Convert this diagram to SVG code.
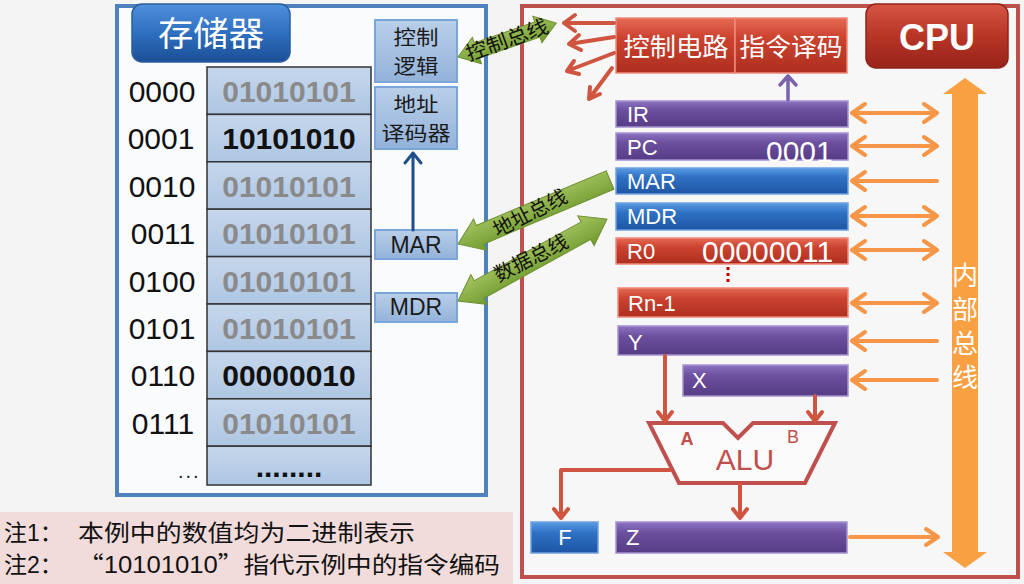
<svg xmlns="http://www.w3.org/2000/svg" width="1024" height="584" viewBox="0 0 1024 584">
  <style>
    .t { font-family: "Liberation Sans", "Noto Sans CJK SC", sans-serif; }
    .cjk { font-family: "Noto Sans CJK SC", "Liberation Sans", sans-serif; }
    .addr { font-size: 30px; fill: #111; text-anchor: middle; }
    .val { font-size: 30px; font-weight: bold; fill: #8a8a8a; text-anchor: middle; }
    .valk { font-size: 30px; font-weight: bold; fill: #111; text-anchor: middle; }
    .cell { fill: url(#gCell); stroke: #333; stroke-width: 1.5; }
    .mbox { fill: url(#gMbox); stroke: #7aa5d8; stroke-width: 2; }
    .mtxt { font-size: 23px; fill: #1a1a1a; text-anchor: middle; }
    .mcjk { font-size: 20px; fill: #1a1a1a; text-anchor: middle; }
    .reg { stroke-width: 1.5; }
    .purple { fill: url(#gPurple); stroke: #a493d0; }
    .blue { fill: url(#gBlue); stroke: #6fa2e2; }
    .red { fill: url(#gRed); stroke: #f08a7a; }
    .rl { font-size: 22px; fill: #fff; }
    .rv { font-size: 30px; fill: #fff; }
    .obus { fill: none; stroke: #f79646; stroke-width: 4; stroke-linecap: round; stroke-linejoin: round; }
    .rarr { fill: none; stroke: #cf5541; stroke-width: 4; stroke-linecap: round; stroke-linejoin: round; }
    .green { fill: url(#gGreen); stroke: #6d9030; stroke-width: 1; }
    .gtxt { font-size: 20px; fill: #111; text-anchor: middle; }
  </style>
  <defs>
    <linearGradient id="gCell" x1="0" y1="0" x2="0" y2="1">
      <stop offset="0" stop-color="#c6d7ec"/>
      <stop offset="1" stop-color="#aec6e3"/>
    </linearGradient>
    <linearGradient id="gMbox" x1="0" y1="0" x2="0" y2="1">
      <stop offset="0" stop-color="#b9cfe9"/>
      <stop offset="1" stop-color="#93b2da"/>
    </linearGradient>
    <linearGradient id="gTitleB" x1="0" y1="0" x2="0" y2="1">
      <stop offset="0" stop-color="#4f90dc"/>
      <stop offset="0.5" stop-color="#2f6fc0"/>
      <stop offset="1" stop-color="#1b4f96"/>
    </linearGradient>
    <linearGradient id="gTitleR" x1="0" y1="0" x2="0" y2="1">
      <stop offset="0" stop-color="#d65543"/>
      <stop offset="0.5" stop-color="#b83526"/>
      <stop offset="1" stop-color="#97231a"/>
    </linearGradient>
    <linearGradient id="gPurple" x1="0" y1="0" x2="0" y2="1">
      <stop offset="0" stop-color="#8d73c2"/>
      <stop offset="0.35" stop-color="#6c509f"/>
      <stop offset="1" stop-color="#563b85"/>
    </linearGradient>
    <linearGradient id="gBlue" x1="0" y1="0" x2="0" y2="1">
      <stop offset="0" stop-color="#5b9be4"/>
      <stop offset="0.35" stop-color="#2f71c4"/>
      <stop offset="1" stop-color="#1d55a3"/>
    </linearGradient>
    <linearGradient id="gRed" x1="0" y1="0" x2="0" y2="1">
      <stop offset="0" stop-color="#e66a55"/>
      <stop offset="0.35" stop-color="#cc4330"/>
      <stop offset="1" stop-color="#ae2e1f"/>
    </linearGradient>
    <linearGradient id="gGreen" x1="0" y1="0" x2="0" y2="1">
      <stop offset="0" stop-color="#a7c562"/>
      <stop offset="1" stop-color="#6f9a2e"/>
    </linearGradient>
  </defs>

  <!-- page -->
  <rect x="0" y="0" width="1024" height="584" fill="#f4f4f4"/>

  <!-- memory frame -->
  <g id="memory">
    <rect x="117" y="6" width="369" height="489" fill="#fafbfc" stroke="#4f81bd" stroke-width="4"/>
    <rect x="132" y="4" width="158" height="58" rx="10" fill="url(#gTitleB)" stroke="#2a5d9f" stroke-width="1.5"/>
    <text class="cjk" x="211" y="46" font-size="34" fill="#fff" text-anchor="middle" textLength="106" lengthAdjust="spacingAndGlyphs">存储器</text>
  </g>

  <!-- memory cells -->
  <g id="memory-cells">
    <rect class="cell" x="207" y="67" width="164" height="47.4"/>
    <rect class="cell" x="207" y="114.4" width="164" height="47.4"/>
    <rect class="cell" x="207" y="161.8" width="164" height="47.4"/>
    <rect class="cell" x="207" y="209.2" width="164" height="47.4"/>
    <rect class="cell" x="207" y="256.6" width="164" height="47.4"/>
    <rect class="cell" x="207" y="304" width="164" height="47.4"/>
    <rect class="cell" x="207" y="351.4" width="164" height="47.4"/>
    <rect class="cell" x="207" y="398.8" width="164" height="47.4"/>
    <rect class="cell" x="207" y="446.2" width="164" height="38.8"/>

    <text class="t val" x="289" y="102">01010101</text>
    <text class="t valk" x="289" y="149.4">10101010</text>
    <text class="t val" x="289" y="196.8">01010101</text>
    <text class="t val" x="289" y="244.2">01010101</text>
    <text class="t val" x="289" y="291.6">01010101</text>
    <text class="t val" x="289" y="339">01010101</text>
    <text class="t valk" x="289" y="386.4">00000010</text>
    <text class="t val" x="289" y="433.8">01010101</text>
    <text class="t valk" x="289" y="477">........</text>

    <text class="t addr" x="162" y="102">0000</text>
    <text class="t addr" x="161" y="149.4">0001</text>
    <text class="t addr" x="162" y="196.8">0010</text>
    <text class="t addr" x="163" y="244.2">0011</text>
    <text class="t addr" x="162" y="291.6">0100</text>
    <text class="t addr" x="162" y="339">0101</text>
    <text class="t addr" x="163" y="386.4">0110</text>
    <text class="t addr" x="163" y="433.8">0111</text>
    <text class="t" x="178" y="478" font-size="20" fill="#222" letter-spacing="2">...</text>
  </g>

  <g id="mem-control-logic">
    <rect class="mbox" x="375" y="20" width="82" height="62"/>
    <text class="cjk mcjk" x="416" y="45" textLength="45" lengthAdjust="spacingAndGlyphs">控制</text>
    <text class="cjk mcjk" x="416" y="74" textLength="45" lengthAdjust="spacingAndGlyphs">逻辑</text>
  </g>
  <g id="mem-address-decoder">
    <rect class="mbox" x="375" y="87" width="82" height="62"/>
    <text class="cjk mcjk" x="416" y="112" textLength="45" lengthAdjust="spacingAndGlyphs">地址</text>
    <text class="cjk mcjk" x="416" y="141" textLength="69" lengthAdjust="spacingAndGlyphs">译码器</text>
  </g>
  <g id="mem-mar">
    <rect class="mbox" x="375" y="230" width="82" height="29"/>
    <text class="t mtxt" x="416" y="253">MAR</text>
  </g>
  <g id="mem-mdr">
    <rect class="mbox" x="375" y="293" width="82" height="29"/>
    <text class="t mtxt" x="416" y="315">MDR</text>
  </g>

  <!-- CPU frame -->
  <g id="cpu">
    <rect x="522" y="6" width="496" height="571" fill="#f7f7f7" stroke="#c0504d" stroke-width="4"/>
    <rect x="866" y="4" width="142" height="64" rx="10" fill="url(#gTitleR)" stroke="#8e2519" stroke-width="1.5"/>
    <text class="t" x="937" y="50" font-size="36" font-weight="bold" fill="#fff" text-anchor="middle">CPU</text>
  </g>

  <g id="control-circuit">
    <rect x="616" y="18" width="119" height="55" fill="url(#gRed)" stroke="#f08a7a" stroke-width="1.5"/>
    <text class="cjk" x="676" y="56" font-size="25" fill="#fff" text-anchor="middle" textLength="105" lengthAdjust="spacingAndGlyphs">控制电路</text>
  </g>
  <g id="instruction-decoder">
    <rect x="735" y="18" width="112" height="55" fill="url(#gRed)" stroke="#f08a7a" stroke-width="1.5"/>
    <text class="cjk" x="791" y="56" font-size="25" fill="#fff" text-anchor="middle" textLength="103" lengthAdjust="spacingAndGlyphs">指令译码</text>
  </g>

  <!-- registers -->
  <g id="reg-ir">
    <rect class="reg purple" x="616" y="101" width="232" height="26"/>
    <text class="t rl" x="627" y="122">IR</text>
  </g>
  <g id="reg-pc">
    <rect class="reg purple" x="616" y="133" width="232" height="27"/>
    <text class="t rl" x="627" y="155">PC</text>
    <text class="t rv" x="766" y="162">0001</text>
  </g>
  <g id="reg-mar">
    <rect class="reg blue" x="616" y="168" width="232" height="26"/>
    <text class="t rl" x="627" y="189">MAR</text>
  </g>
  <g id="reg-mdr">
    <rect class="reg blue" x="616" y="203" width="232" height="27"/>
    <text class="t rl" x="627" y="224">MDR</text>
  </g>
  <g id="reg-r0">
    <rect class="reg red" x="616" y="238" width="232" height="26"/>
    <text class="t rl" x="627" y="259">R0</text>
    <text class="t rv" x="702" y="262">00000011</text>
  </g>
  <g id="reg-ellipsis">
    <line x1="728" y1="267" x2="728" y2="284" stroke="#c00000" stroke-width="3" stroke-dasharray="3,3"/>
  </g>
  <g id="reg-rn1">
    <rect class="reg red" x="618" y="288" width="230" height="29"/>
    <text class="t rl" x="628" y="311">Rn-1</text>
  </g>
  <g id="reg-y">
    <rect class="reg purple" x="618" y="326" width="230" height="29"/>
    <text class="t rl" x="628" y="350">Y</text>
  </g>
  <g id="reg-x">
    <rect class="reg purple" x="683" y="365" width="165" height="31"/>
    <text class="t rl" x="692" y="388">X</text>
  </g>
  <g id="reg-f">
    <rect class="reg blue" x="531" y="522" width="67" height="31"/>
    <text class="t rl" x="565" y="545" text-anchor="middle">F</text>
  </g>
  <g id="reg-z">
    <rect class="reg purple" x="616" y="522" width="231" height="31"/>
    <text class="t rl" x="626" y="545">Z</text>
  </g>

  <!-- ALU -->
  <g id="alu">
    <path d="M649,423 L723,423 L738,438 L753,423 L835,423 L805,483 L679,483 Z" fill="#fbfbfb" stroke="#c0504d" stroke-width="4" stroke-linejoin="miter"/>
    <text class="t" x="687" y="445" font-size="18" font-weight="bold" fill="#c0504d" text-anchor="middle">A</text>
    <text class="t" x="793" y="443" font-size="18" fill="#c0504d" text-anchor="middle">B</text>
    <text class="t" x="745" y="470" font-size="30" fill="#c0504d" text-anchor="middle">ALU</text>
  </g>

  <!-- internal bus -->
  <g id="internal-bus">
    <polygon points="965,78 987,94 978,94 978,552 987,552 965,568 943,552 952,552 952,94 943,94" fill="#f9a043"/>
    <text class="cjk" x="965" y="285" font-size="26" fill="#fff" text-anchor="middle">内</text>
    <text class="cjk" x="965" y="319" font-size="26" fill="#fff" text-anchor="middle">部</text>
    <text class="cjk" x="965" y="353" font-size="26" fill="#fff" text-anchor="middle">总</text>
    <text class="cjk" x="965" y="387" font-size="26" fill="#fff" text-anchor="middle">线</text>
  </g>

  <!-- connectors -->
  <g id="connectors">
    <!-- register <-> internal bus -->
    <path class="obus" d="M852,113 H937 M865,104 L852,113 L865,122 M924,104 L937,113 L924,122"/>
    <path class="obus" d="M852,146 H937 M865,137 L852,146 L865,155 M924,137 L937,146 L924,155"/>
    <path class="obus" d="M852,181 H937 M865,172 L852,181 L865,190"/>
    <path class="obus" d="M852,216 H937 M865,207 L852,216 L865,225 M924,207 L937,216 L924,225"/>
    <path class="obus" d="M852,250 H937 M865,241 L852,250 L865,259 M924,241 L937,250 L924,259"/>
    <path class="obus" d="M852,303 H937 M865,294 L852,303 L865,312 M924,294 L937,303 L924,312"/>
    <path class="obus" d="M852,341 H937 M865,332 L852,341 L865,350"/>
    <path class="obus" d="M852,380 H937 M865,371 L852,380 L865,389"/>
    <path class="obus" d="M850,537 H938 M926,529 L938,537 L926,545" stroke-width="3"/>

    <!-- control signals -->
    <path class="rarr" d="M614,23 L564,23 M575,15 L564,23 L575,31"/>
    <path class="rarr" d="M614,37 L569,44 M579,35 L569,44 L581,50"/>
    <path class="rarr" d="M614,53 L567,71 M574,61 L567,71 L579,74"/>
    <path class="rarr" d="M612,68 L589,99 M590,87 L589,99 L600,94"/>

    <!-- IR to instruction decoder -->
    <path d="M788,100 L788,76 M780,85 L788,76 L796,85" fill="none" stroke="#7a62ad" stroke-width="3.5" stroke-linecap="round" stroke-linejoin="round"/>

    <!-- ALU data paths -->
    <path class="rarr" d="M665,356 L665,421 M658,412 L665,421 L672,412" stroke-width="3.5"/>
    <path class="rarr" d="M815,396 L815,421 M808,412 L815,421 L822,412" stroke-width="3.5"/>
    <path class="rarr" d="M670,470 L561,470 L561,518 M554,509 L561,518 L568,509" stroke-width="3.5"/>
    <path class="rarr" d="M740,484 L740,518 M733,509 L740,518 L747,509" stroke-width="3.5"/>

    <!-- MAR to address decoder -->
    <path d="M413,230 L413,153 M405,163 L413,153 L421,163" fill="none" stroke="#1f4e8c" stroke-width="3" stroke-linecap="round" stroke-linejoin="round"/>

    <!-- system buses -->
    <g transform="translate(458,57) rotate(-19.1)">
      <polygon class="green" points="0,0 20,-14 20,-8 84,-8 84,-14 104,0 84,14 84,8 20,8 20,14"/>
    </g>
    <text class="cjk gtxt" x="507" y="47" transform="rotate(-20 507 40)" textLength="86" lengthAdjust="spacingAndGlyphs">控制总线</text>

    <g transform="translate(458,244) rotate(-22.8)">
      <polygon class="green" points="0,0 24,-17 24,-10 165,-10 165,10 24,10 24,17"/>
    </g>
    <text class="cjk gtxt" x="530" y="220" transform="rotate(-27 530 213)">地址总线</text>

    <g transform="translate(458,301) rotate(-28.8)">
      <polygon class="green" points="0,0 24,-17 24,-10 146,-10 146,-17 170,0 146,17 146,10 24,10 24,17"/>
    </g>
    <text class="cjk gtxt" x="531" y="265" transform="rotate(-27 531 258)">数据总线</text>
  </g>

  <!-- notes -->
  <g id="notes">
    <rect x="0" y="512" width="513" height="72" fill="#f2dcdb"/>
    <text class="t" x="4" y="541" font-size="23" fill="#111">注1<tspan class="cjk">：</tspan></text>
    <text class="cjk" x="78" y="541" font-size="23" fill="#111" textLength="337" lengthAdjust="spacingAndGlyphs">本例中的数值均为二进制表示</text>
    <text class="t" x="4" y="573" font-size="23" fill="#111">注2<tspan class="cjk">：</tspan></text>
    <text class="t" x="78" y="573" font-size="23" fill="#111" textLength="422" lengthAdjust="spacingAndGlyphs"><tspan class="cjk">“</tspan>10101010<tspan class="cjk">”</tspan>指代示例中的指令编码</text>
  </g>
</svg>
